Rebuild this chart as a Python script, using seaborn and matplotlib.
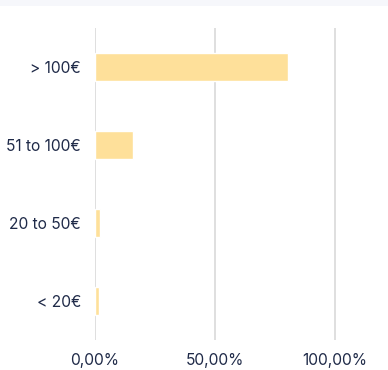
import matplotlib
matplotlib.use("Agg")
import matplotlib.pyplot as plt
from matplotlib.patches import Rectangle
from matplotlib.ticker import FuncFormatter
import seaborn as sns
import pandas as pd

# Share of answers per price band
categories = ["> 100€", "51 to 100€", "20 to 50€", "< 20€"]
shares = [80.6, 16.0, 2.1, 1.8]
x_ticks = [0, 50, 100]

sns.set_theme(style="white")
plt.rcParams["font.family"] = ["Inter", "DejaVu Sans"]

text_color = "#1f2a48"
bar_color = "#fee09a"
grid_color = "#dcdcdc"

df = pd.DataFrame({"band": categories, "share": shares})

fig = plt.figure(figsize=(3.88, 3.70), dpi=100)
fig.patch.set_facecolor("white")
fig.patches.append(Rectangle((0, 1 - 6 / 370), 1, 6 / 370, transform=fig.transFigure,
                             facecolor="#f6f7fb", edgecolor="none", zorder=0))

ax = fig.add_axes([95 / 388, 1 - 340 / 370, (383 - 95) / 388, (340 - 28) / 370])
ax.set_axisbelow(True)
sns.barplot(data=df, y="band", x="share", orient="h", color=bar_color,
            saturation=1, width=0.36, ax=ax, zorder=3)

ax.set_xlim(0, (383 - 95) / 240 * 100)
ax.set_ylim(3.5, -0.5)
ax.set_xticks(x_ticks)
ax.xaxis.set_major_formatter(FuncFormatter(lambda v, _: f"{v:.2f}%".replace(".", ",")))
ax.grid(axis="x", color=grid_color, linewidth=1.3, zorder=0)
for s in ax.spines.values():
    s.set_visible(False)
ax.set_xlabel("")
ax.set_ylabel("")
ax.tick_params(axis="x", length=0, pad=9, labelsize=11.2, labelcolor=text_color)
ax.tick_params(axis="y", length=0, pad=10, labelsize=11.2, labelcolor=text_color)

fig.savefig("out.png", dpi=100)
